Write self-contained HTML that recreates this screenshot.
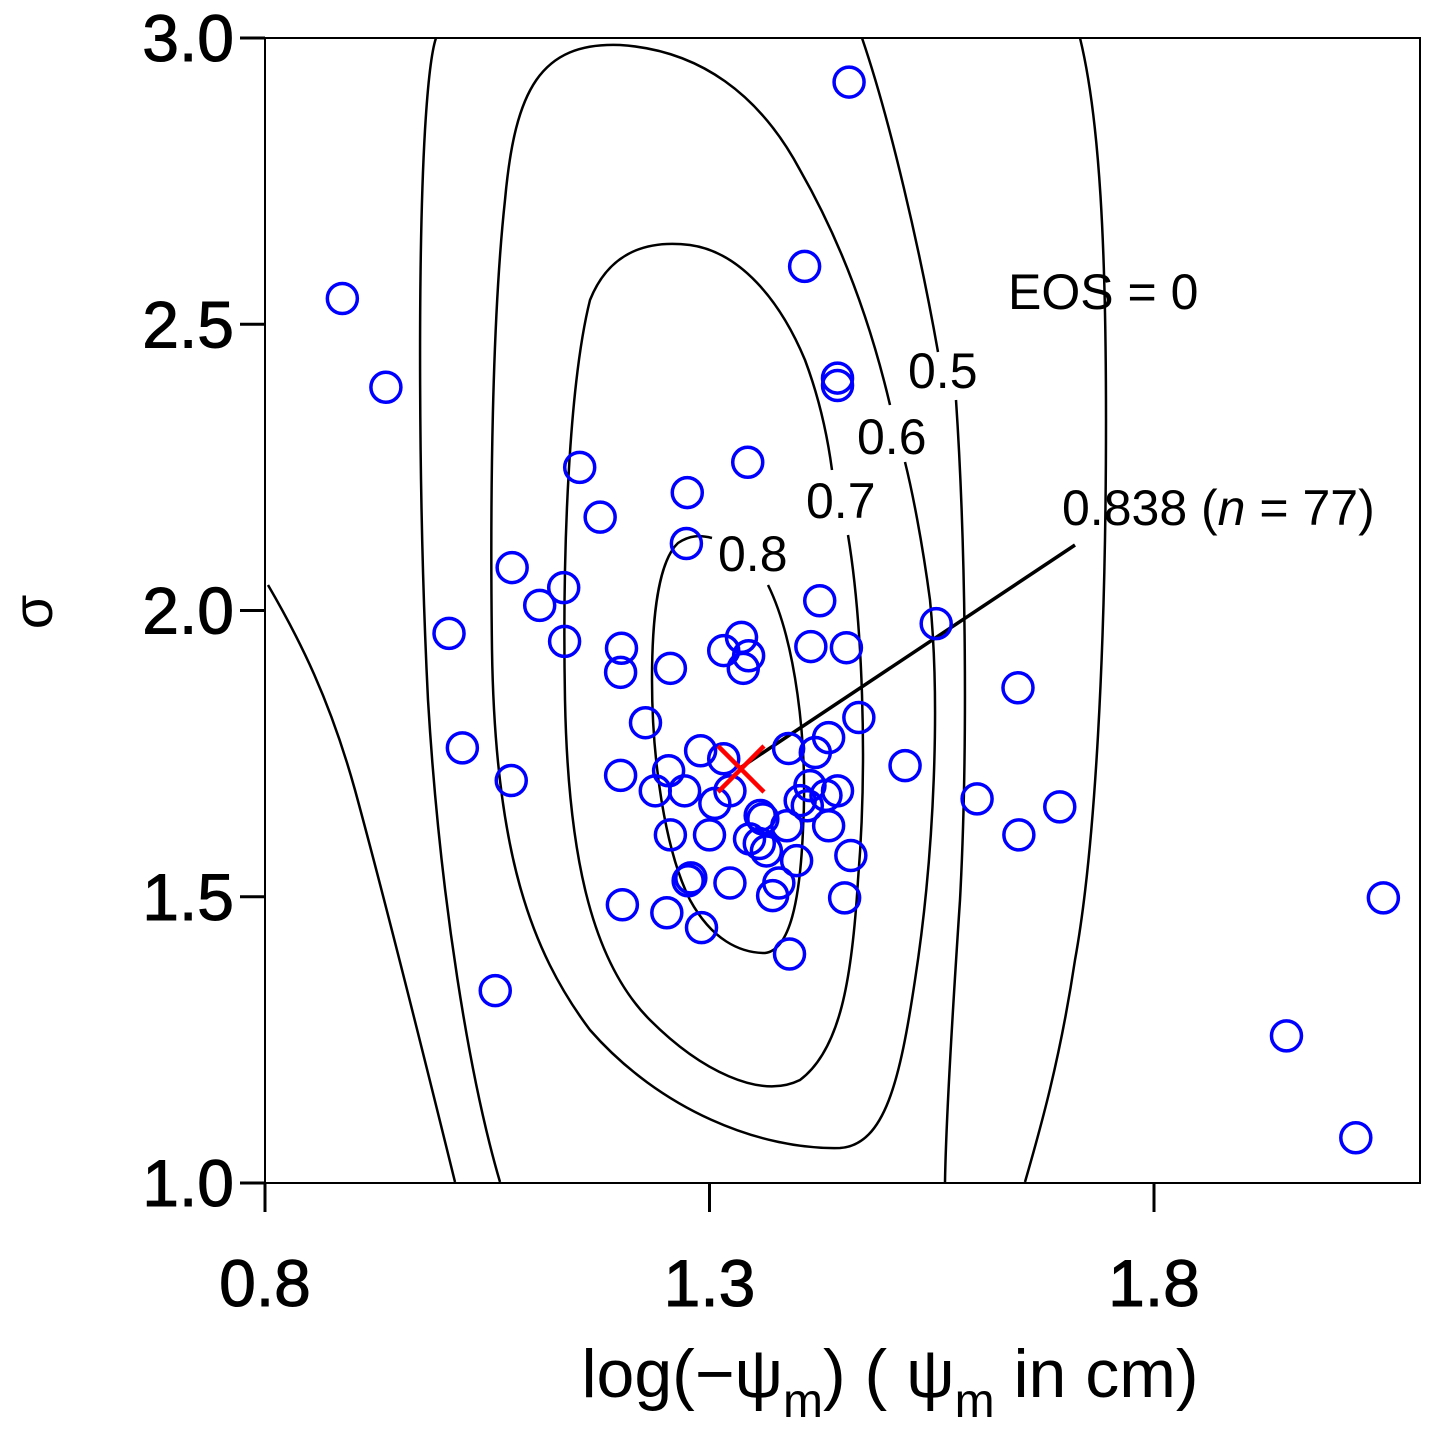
<!DOCTYPE html>
<html><head><meta charset="utf-8"><style>
body{margin:0;background:#fff;}
svg{display:block;font-family:"Liberation Sans",Arial,sans-serif;}
</style></head><body>
<svg id="chart" width="1437" height="1437" viewBox="0 0 1437 1437" xmlns="http://www.w3.org/2000/svg">
<g fill="none" stroke="#000" stroke-width="2.5">
<path d="M268 585 C300 640,330 700,355 790 C385 900,420 1040,455 1182"/>
<path d="M1080 38 C1100 120,1106 250,1106 420 C1106 650,1095 850,1075 960 C1060 1060,1040 1130,1025 1182"/>
<path d="M500 1182 C470 1080,440 900,428 700 C418 500,418 250,425 130 C428 80,432 50,436 38 M862 38 C890 120,920 250,938 352 M956 400 C966 550,968 750,960 900 C952 1020,946 1120,945 1182"/>
<path d="M890 405 C870 320,840 240,800 170 C760 95,700 50,620 45 C540 42,515 90,505 200 C492 320,490 500,492 650 C495 850,530 950,590 1030 C660 1110,760 1150,840 1148 C885 1145,900 1080,915 980 C935 850,940 700,930 600 C922 540,912 490,905 462"/>
<path d="M848 535 C862 620,868 760,858 880 C852 980,840 1050,800 1080 C760 1100,700 1070,650 1020 C590 960,568 850,565 700 C562 540,570 380,590 300 C610 250,650 240,690 245 C740 252,780 300,805 360 C820 400,828 440,832 470"/>
<path d="M768 585 C795 640,808 740,803 830 C800 900,790 950,765 953 C740 953,712 940,690 900 C665 850,652 760,652 680 C652 610,660 560,678 543 C690 535,700 535,712 538"/>
</g>
<g font-size="50" fill="#000">
<text x="1008" y="309">EOS = 0</text>
<text x="908" y="388">0.5</text>
<text x="857" y="454">0.6</text>
<text x="806" y="518">0.7</text>
<text x="718" y="571">0.8</text>
<text x="1062" y="525">0.838 (<tspan font-style="italic">n</tspan> = 77)</text>
</g>
<line x1="740" y1="768" x2="1075" y2="545" stroke="#000" stroke-width="3.5"/>
<g id="points"></g>
<g stroke="#f00" stroke-width="4.5">
<line x1="718" y1="746" x2="764" y2="792"/><line x1="764" y1="746" x2="718" y2="792"/>
</g>
<g stroke="#000" stroke-width="3" fill="none">
<rect x="265" y="38" width="1155" height="1145" stroke-width="2"/>
</g>
<g id="yticks"></g>
<g id="xticks"></g>
<text x="0" y="0" font-size="56" transform="translate(52,612) rotate(-90)" text-anchor="middle">σ</text>
<text x="890" y="1397" font-size="68" text-anchor="middle">log(−ψ<tspan font-size="48" dy="20">m</tspan><tspan dy="-20">) ( ψ</tspan><tspan font-size="48" dy="20">m</tspan><tspan dy="-20"> in cm)</tspan></text>
</svg>
<script>
const xs=[1.457,0.887,0.936,1.407,1.444,1.444,1.154,1.343,1.275,1.177,1.274,1.078,1.136,1.109,1.007,1.137,1.424,1.555,1.201,1.200,1.256,1.316,1.336,1.344,1.338,1.414,1.454,1.647,1.228,1.468,1.022,1.434,1.290,1.389,1.419,1.077,1.200,1.254,1.316,1.520,1.239,1.272,1.323,1.306,1.413,1.444,1.601,1.694,1.648,1.256,1.300,1.345,1.360,1.387,1.402,1.434,1.364,1.398,1.459,1.279,1.276,1.323,1.378,1.371,1.452,1.202,1.252,1.291,1.390,1.059,1.949,2.027,2.058,1.357,1.410,1.431,1.356];
const ys=[2.923,2.545,2.390,2.601,2.406,2.393,2.250,2.259,2.206,2.163,2.117,2.075,2.040,2.009,1.960,1.946,2.017,1.977,1.934,1.892,1.899,1.930,1.953,1.921,1.899,1.937,1.935,1.865,1.804,1.813,1.760,1.778,1.755,1.759,1.752,1.703,1.712,1.720,1.741,1.729,1.685,1.685,1.685,1.663,1.694,1.685,1.671,1.657,1.608,1.608,1.608,1.601,1.636,1.624,1.668,1.624,1.580,1.563,1.572,1.533,1.528,1.524,1.524,1.502,1.498,1.486,1.472,1.446,1.400,1.336,1.257,1.079,1.498,1.642,1.659,1.677,1.593];
const xTicks=[0.8,1.3,1.8];
const xTickLabels=["0.8","1.3","1.8"];
const yTicks=[1.0,1.5,2.0,2.5,3.0];
const yTickLabels=["1.0","1.5","2.0","2.5","3.0"];
const NS="http://www.w3.org/2000/svg";
const X=v=>265+(v-0.8)*889;
const Y=v=>1183-(v-1)*572.5;
const pg=document.getElementById('points');
for(let i=0;i<xs.length;i++){
  const c=document.createElementNS(NS,'circle');
  c.setAttribute('cx',X(xs[i]));c.setAttribute('cy',Y(ys[i]));c.setAttribute('r',15);
  c.setAttribute('fill','none');c.setAttribute('stroke','#00f');c.setAttribute('stroke-width',3.5);
  
  
  pg.appendChild(c);
}
const yg=document.getElementById('yticks');
yTicks.forEach((t,i)=>{
  const l=document.createElementNS(NS,'line');
  l.setAttribute('x1',240);l.setAttribute('x2',265);l.setAttribute('y1',Y(t));l.setAttribute('y2',Y(t));
  l.setAttribute('stroke','#000');l.setAttribute('stroke-width',3);
  
  
  yg.appendChild(l);
  const tx=document.createElementNS(NS,'text');
  tx.setAttribute('x',234);tx.setAttribute('y',Y(t)+23);tx.setAttribute('text-anchor','end');tx.setAttribute('font-size',66);
  tx.setAttribute('stroke','#000');tx.setAttribute('stroke-width',1);
  tx.textContent=yTickLabels[i];
  
  
  yg.appendChild(tx);
});
const xg=document.getElementById('xticks');
xTicks.forEach((t,i)=>{
  const l=document.createElementNS(NS,'line');
  l.setAttribute('x1',X(t));l.setAttribute('x2',X(t));l.setAttribute('y1',1183);l.setAttribute('y2',1212);
  l.setAttribute('stroke','#000');l.setAttribute('stroke-width',3);
  
  
  xg.appendChild(l);
  const tx=document.createElementNS(NS,'text');
  tx.setAttribute('x',X(t));tx.setAttribute('y',1306);tx.setAttribute('text-anchor','middle');tx.setAttribute('font-size',66);
  tx.setAttribute('stroke','#000');tx.setAttribute('stroke-width',1);
  tx.textContent=xTickLabels[i];
  
  
  xg.appendChild(tx);
});
</script>
</body></html>
